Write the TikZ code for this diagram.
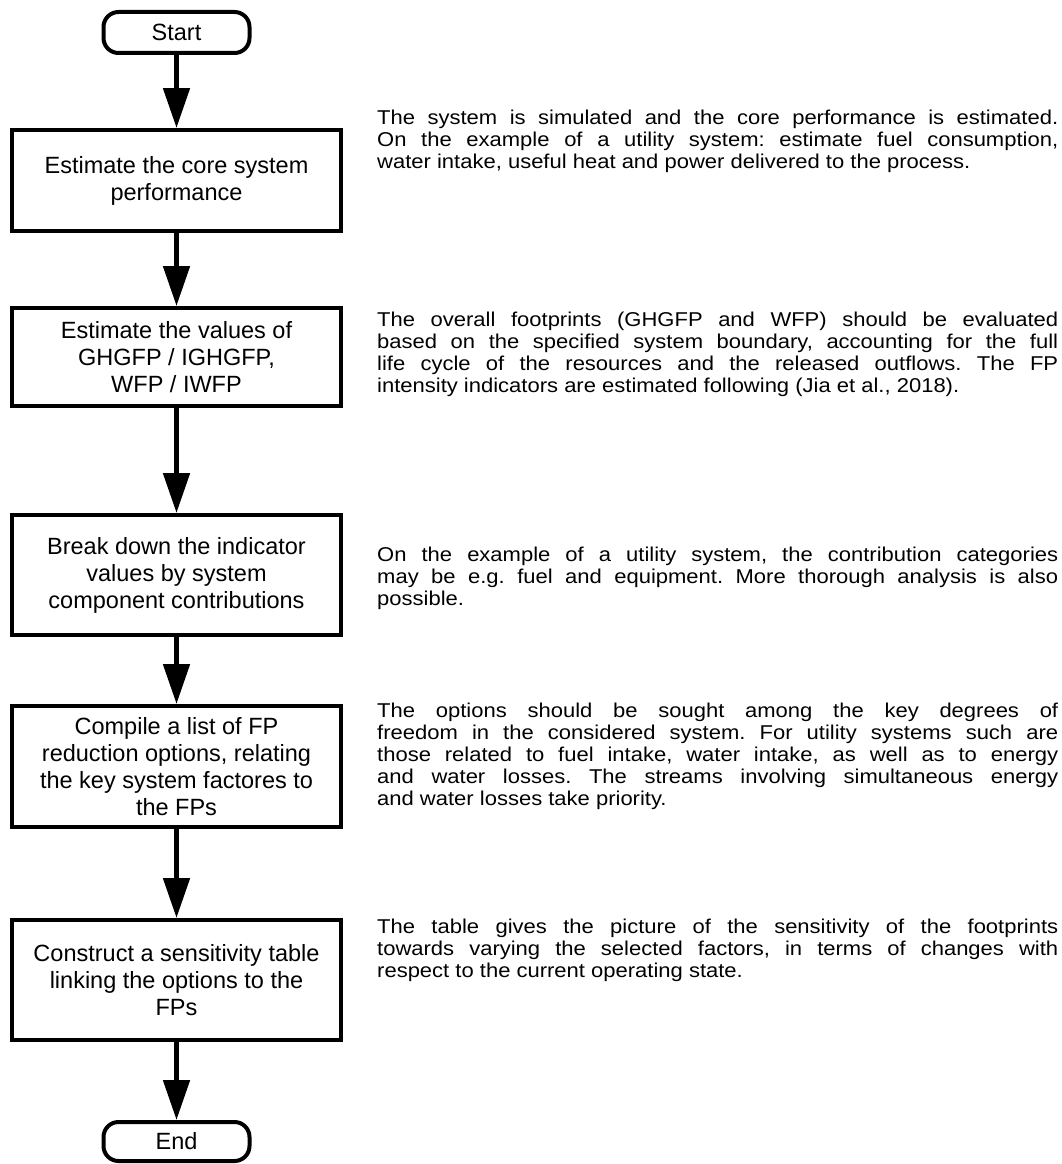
\documentclass[tikz,border=0pt]{standalone}
\usepackage{fontspec}
\setmainfont{Liberation Sans}
\newfontfamily\descfont[FakeStretch=1.1]{Liberation Sans}
\usetikzlibrary{arrows.meta}
\newcommand{\JLine}[1]{\makebox[681pt][s]{\strut #1}}
\newcommand{\LLine}[1]{\makebox[681pt][l]{\strut #1}}
\begin{document}
\begin{tikzpicture}[x=1pt,y=-1pt,
  stepbox/.style={draw, line width=4pt, minimum width=329pt, align=center, inner sep=0pt,
    font=\fontsize{23.5}{27}\selectfont},
  term/.style={draw, line width=4pt, minimum width=146pt, minimum height=41pt, rounded corners=15pt,
    inner sep=0pt, font=\fontsize{23.5}{27}\selectfont},
  desc/.style={anchor=north west, inner sep=0pt, align=left,
    font=\descfont\fontsize{20}{22}\selectfont\frenchspacing},
  flow/.style={line width=5pt, -{Triangle[length=40pt,width=26pt]}}]
\useasboundingbox (0,0) rectangle (1062,1164);

\node[term] (start) at (176.5,32.5) {Start};
\node[stepbox, minimum height=101pt] (b1) at (176.5,180.5) {Estimate the core system\\performance};
\node[stepbox, minimum height=98pt] (b2) at (176.5,357) {Estimate the values of\\GHGFP / IGHGFP,\\WFP / IWFP};
\node[stepbox, minimum height=120pt] (b3) at (176.5,575) {Break down the indicator\\values by system\\component contributions};
\node[stepbox, minimum height=121pt] (b4) at (176.5,766.5) {Compile a list of FP\\reduction options, relating\\the key system factores to\\the FPs};
\node[stepbox, minimum height=120pt] (b5) at (176.5,980) {Construct a sensitivity table\\linking the options to the\\FPs};
\node[term, minimum height=39pt] (end) at (176.5,1141.5) {End};

\draw[flow] (start) -- (b1);
\draw[flow] (b1) -- (b2);
\draw[flow] (b2) -- (b3);
\draw[flow] (b3) -- (b4);
\draw[flow] (b4) -- (b5);
\draw[flow] (b5) -- (end);

\node[desc] (d1) at (377,108.6) {\JLine{The system is simulated and the core performance is estimated.}\\
\JLine{On the example of a utility system: estimate fuel consumption,}\\
\LLine{water intake, useful heat and power delivered to the process.}};
\node[desc] (d2) at (377,310.6) {\JLine{The overall footprints (GHGFP and WFP) should be evaluated}\\
\JLine{based on the specified system boundary, accounting for the full}\\
\JLine{life cycle of the resources and the released outflows. The FP}\\
\LLine{intensity indicators are estimated following (Jia et al., 2018).}};
\node[desc] (d3) at (377,545.6) {\JLine{On the example of a utility system, the contribution categories}\\
\JLine{may be e.g. fuel and equipment. More thorough analysis is also}\\
\LLine{possible.}};
\node[desc] (d4) at (377,701.6) {\JLine{The options should be sought among the key degrees of}\\
\JLine{freedom in the considered system. For utility systems such are}\\
\JLine{those related to fuel intake, water intake, as well as to energy}\\
\JLine{and water losses. The streams involving simultaneous energy}\\
\LLine{and water losses take priority.}};
\node[desc] (d5) at (377,917.6) {\JLine{The table gives the picture of the sensitivity of the footprints}\\
\JLine{towards varying the selected factors, in terms of changes with}\\
\LLine{respect to the current operating state.}};
\end{tikzpicture}
\end{document}
